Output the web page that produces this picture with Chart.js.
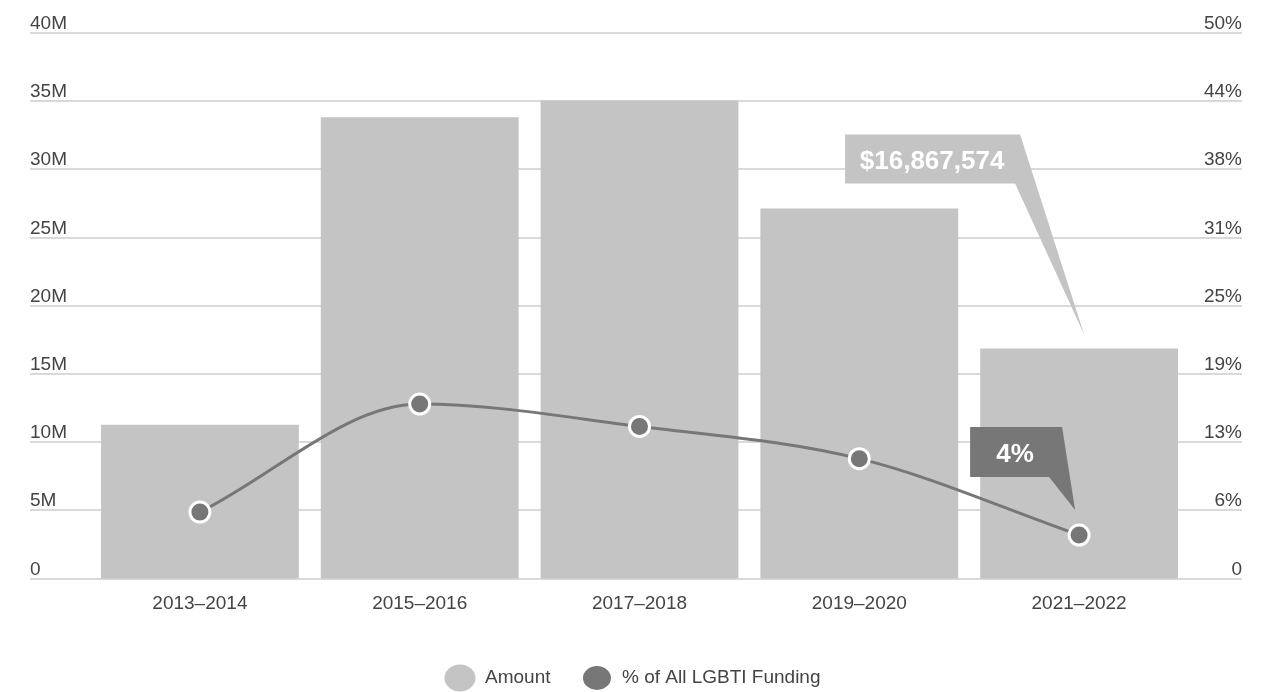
<!DOCTYPE html>
<html>
<head>
<meta charset="utf-8">
<script src="https://cdn.jsdelivr.net/npm/chart.js@4/dist/chart.umd.min.js"></script>
<style>
  html, body { margin: 0; padding: 0; background: #fff; }
  #wrap { width: 1278px; height: 692px; position: relative; }
</style>
</head>
<body>
<div id="wrap"><canvas id="chart"></canvas></div>
<script>
const periods = ['2013–2014', '2015–2016', '2017–2018', '2019–2020', '2021–2022'];
const amounts = [11290000, 33820000, 35050000, 27130000, 16867574];
const sharePct = [6.1, 16.0, 13.95, 11.0, 4];
const amountTicks = ['0', '5M', '10M', '15M', '20M', '25M', '30M', '35M', '40M'];
const pctTicks = ['0', '6%', '13%', '19%', '25%', '31%', '38%', '44%', '50%'];

const LIGHT = '#c4c4c4';
const DARK = '#777777';
const TEXT = '#444444';
const GRID = '#d9d9d9';
const FONT = '"Liberation Sans", Arial, Helvetica, sans-serif';

// gridlines run the full width, labels sit just above each line
const gridPlugin = {
    id: 'fullGrid',
    beforeDatasetsDraw(chart) {
        const ctx = chart.ctx;
        const yL = chart.scales.yAmount;
        const yR = chart.scales.yPct;
        const left = 30, right = 1242;
        ctx.save();
        ctx.font = '19px ' + FONT;
        ctx.textBaseline = 'alphabetic';
        amountTicks.forEach((label, i) => {
            const y = yL.getPixelForValue(yL.max * i / (amountTicks.length - 1));
            ctx.fillStyle = GRID;
            ctx.fillRect(left, Math.round(y) - 1, right - left, 2);
            ctx.fillStyle = TEXT;
            ctx.textAlign = 'left';
            ctx.fillText(label, left, y - 4);
            const yr = yR.getPixelForValue(yR.max * i / (pctTicks.length - 1));
            ctx.textAlign = 'right';
            ctx.fillText(pctTicks[i], right, yr - 4);
        });
        ctx.restore();
    }
};

const callout = (ctx, pts, fill, text, tx, ty) => {
    ctx.beginPath();
    ctx.moveTo(pts[0][0], pts[0][1]);
    pts.slice(1).forEach(p => ctx.lineTo(p[0], p[1]));
    ctx.closePath();
    ctx.fillStyle = fill;
    ctx.fill();
    ctx.fillStyle = '#ffffff';
    ctx.font = 'bold 26px ' + FONT;
    ctx.textAlign = 'center';
    ctx.textBaseline = 'alphabetic';
    ctx.fillText(text, tx, ty);
};

const calloutPlugin = {
    id: 'callouts',
    afterDatasetsDraw(chart) {
        const ctx = chart.ctx;
        const last = periods.length - 1;
        const pt = chart.getDatasetMeta(0).data[last];
        const bar = chart.getDatasetMeta(1).data[last];
        ctx.save();

        // amount bubble pointing at the latest bar
        const bx = bar.x, by = bar.y;
        callout(ctx, [
            [bx - 234, by - 214], [bx - 59, by - 214], [bx + 5, by - 14],
            [bx - 64, by - 165], [bx - 234, by - 165]
        ], LIGHT, '$' + amounts[last].toLocaleString('en-US'), bx - 147, by - 180);

        // share bubble pointing at the latest point
        const px = pt.x, py = pt.y;
        callout(ctx, [
            [px - 109, py - 108], [px - 17, py - 108], [px - 4, py - 25],
            [px - 30, py - 58], [px - 109, py - 58]
        ], DARK, Math.round(sharePct[last]) + '%', px - 64, py - 73);

        ctx.restore();
    }
};

new Chart(document.getElementById('chart'), {
    data: {
        labels: periods,
        datasets: [
            {
                type: 'line',
                label: '% of All LGBTI Funding',
                data: sharePct,
                yAxisID: 'yPct',
                borderColor: DARK,
                backgroundColor: DARK,
                borderWidth: 3,
                cubicInterpolationMode: 'monotone',
                pointRadius: 10,
                pointHoverRadius: 10,
                pointBorderWidth: 3,
                pointBorderColor: '#ffffff',
                pointBackgroundColor: DARK,
                order: 0
            },
            {
                type: 'bar',
                label: 'Amount',
                data: amounts,
                yAxisID: 'yAmount',
                backgroundColor: LIGHT,
                categoryPercentage: 0.9,
                barPercentage: 1,
                order: 1
            }
        ]
    },
    options: {
        responsive: true,
        maintainAspectRatio: false,
        animation: false,
        layout: { padding: { left: 76, right: 89, top: 33, bottom: 0 } },
        scales: {
            x: {
                grid: { display: false },
                border: { display: false },
                ticks: { color: TEXT, font: { family: FONT, size: 19 }, padding: 5.5 },
                afterFit: (scale) => { scale.height += 17; }
            },
            yAmount: {
                position: 'left',
                min: 0,
                max: 40000000,
                grid: { display: false },
                border: { display: false },
                ticks: { display: false },
                afterFit: (scale) => { scale.width = 14; }
            },
            yPct: {
                display: false,
                position: 'right',
                min: 0,
                max: 50
            }
        },
        plugins: {
            legend: {
                position: 'bottom',
                reverse: true,
                maxHeight: 54.5,
                labels: {
                    usePointStyle: true,
                    pointStyle: 'circle',
                    boxHeight: 19,
                    pointStyleWidth: 31,
                    padding: 31,
                    color: TEXT,
                    font: { family: FONT, size: 19 }
                }
            },
            tooltip: { enabled: false }
        }
    },
    plugins: [gridPlugin, calloutPlugin]
});
</script>
</body>
</html>
